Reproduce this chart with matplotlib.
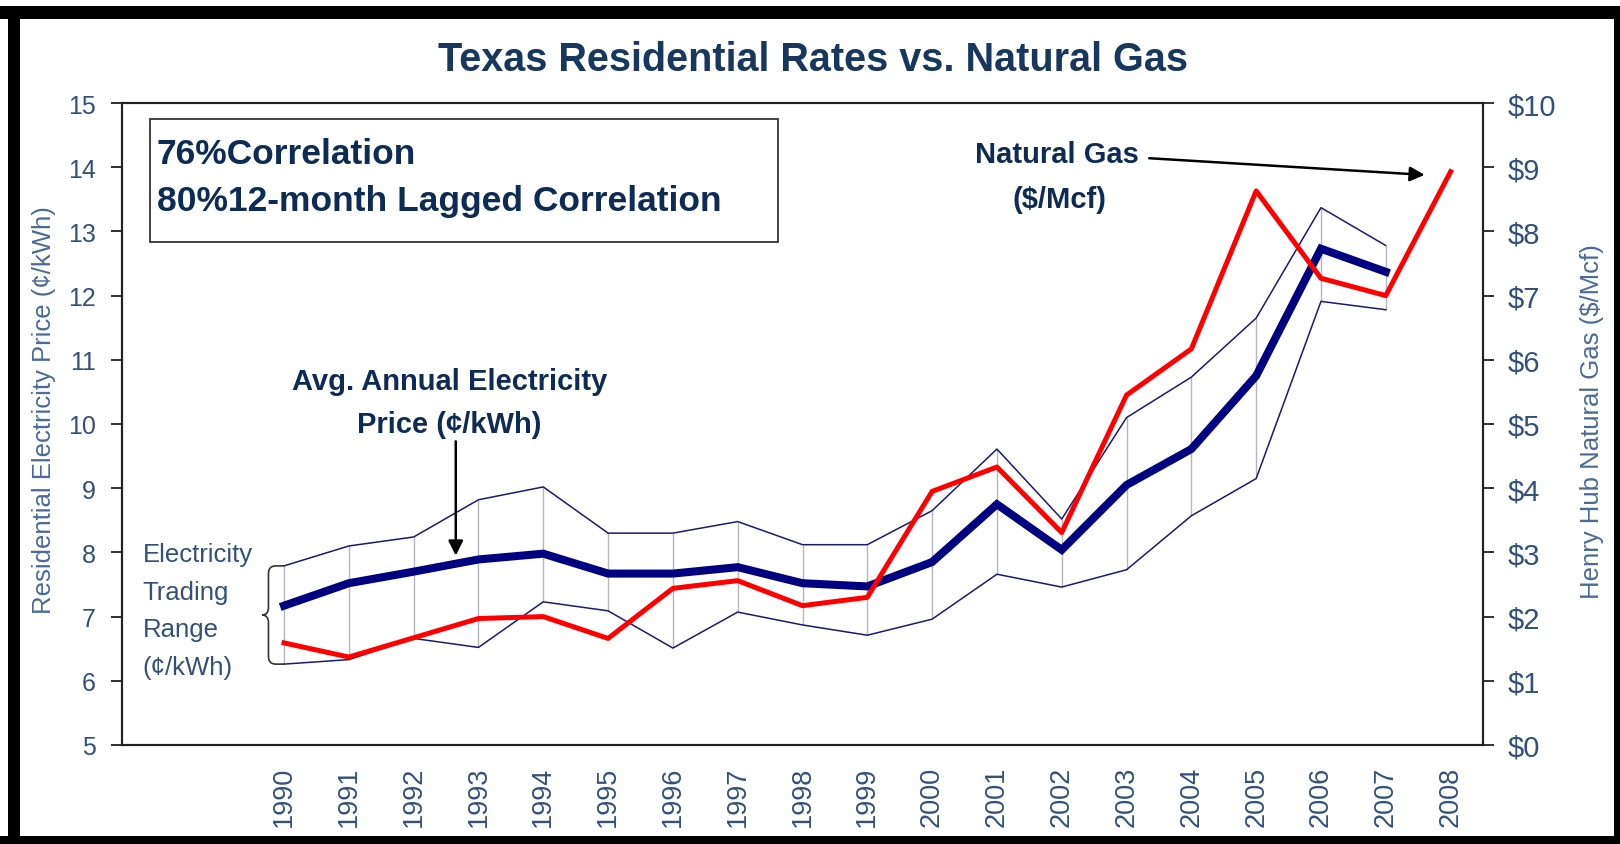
import matplotlib
matplotlib.use('Agg')
import matplotlib.pyplot as plt
from matplotlib.path import Path
from matplotlib.patches import PathPatch, Rectangle
from matplotlib import font_manager

# ---------------- data ----------------
years_elec = list(range(1990, 2008))
elec_high = [7.79, 8.10, 8.24, 8.82, 9.02, 8.30, 8.30, 8.48, 8.12, 8.12,
             8.65, 9.61, 8.52, 10.10, 10.73, 11.65, 13.37, 12.78]
elec_avg = [7.17, 7.52, 7.70, 7.89, 7.98, 7.67, 7.67, 7.77, 7.52, 7.47,
            7.85, 8.75, 8.04, 9.05, 9.61, 10.75, 12.73, 12.37]
elec_low = [6.26, 6.33, 6.66, 6.52, 7.23, 7.09, 6.51, 7.07, 6.87, 6.71,
            6.96, 7.66, 7.46, 7.73, 8.57, 9.15, 11.91, 11.78]
years_gas = list(range(1990, 2009))
gas_price = [1.59, 1.37, 1.67, 1.97, 2.00, 1.66, 2.44, 2.56, 2.17, 2.30,
             3.95, 4.33, 3.31, 5.45, 6.17, 8.63, 7.27, 7.00, 8.93]
left_ticks = list(range(5, 16))
right_ticks = list(range(0, 11))
right_ticklabels = ['$%d' % v for v in right_ticks]
year_labels = [str(y) for y in years_gas]

# ---------------- fonts ----------------
names = {f.name for f in font_manager.fontManager.ttflist}
BASE = 'Liberation Sans' if 'Liberation Sans' in names else 'DejaVu Sans'
NARROW = 'Liberation Sans Narrow' if 'Liberation Sans Narrow' in names else BASE
plt.rcParams['font.family'] = [BASE, 'DejaVu Sans']

W, H = 1620, 845
fig = plt.figure(figsize=(W / 100, H / 100), dpi=100)
fig.patch.set_facecolor('white')

def fx(px):
    return px / W

def fy(py):
    return 1 - py / H

ax = fig.add_axes([fx(122), fy(746), (1483 - 122) / W, (746 - 104) / H])
ax2 = ax.twinx()

TICKC = '#33507a'
LABC = '#4a6a96'
NAVY = '#0d2b55'

ax.vlines(years_elec, elec_low, elec_high, color='#b5b5c2', lw=1.0, zorder=1)
ax.plot(years_elec, elec_high, color='#1a1a6e', lw=1.1, zorder=2)
ax.plot(years_elec, elec_low, color='#1a1a6e', lw=1.1, zorder=2)
ax.plot(years_elec, elec_avg, color='#000080', lw=5.8, zorder=3,
        solid_joinstyle='miter')
ax2.plot(years_gas, gas_price, color='#ff0000', lw=3.6, zorder=4)

ax.set_xlim(1987.5, 2008.5)
ax.set_ylim(5, 15)
ax2.set_ylim(0, 10)
ax.set_yticks(left_ticks)
ax.set_yticklabels([str(v) for v in left_ticks])
ax2.set_yticks(right_ticks)
ax2.set_yticklabels(right_ticklabels)
ax.set_xticks(years_gas)
ax.set_xticklabels(year_labels, rotation=90)

ax.tick_params(axis='y', direction='out', length=8, width=1.3, color='#222222',
               labelsize=18, labelcolor=TICKC, pad=11)
ax2.tick_params(axis='y', direction='out', length=8, width=1.3, color='#222222',
                labelsize=21, labelcolor=TICKC, pad=10)
ax.tick_params(axis='x', length=0, labelsize=19.5, labelcolor=TICKC, pad=15)
for a in (ax, ax2):
    for s in a.spines.values():
        s.set_linewidth(1.5)
        s.set_color('#222222')

# axis titles
fig.text(fx(44), fy(410), 'Residential Electricity Price (\u00a2/kWh)', rotation=90,
         ha='center', va='center', fontsize=18.5, color=LABC)
fig.text(fx(1592), fy(422), 'Henry Hub Natural Gas ($/Mcf)', rotation=90,
         ha='center', va='center', fontsize=18.5, color=LABC)

# title
fig.text(fx(813), fy(60), 'Texas Residential Rates vs. Natural Gas', ha='center',
         va='center', fontsize=28.5, fontweight='bold', color='#17375e')

# correlation box
fig.add_artist(Rectangle((fx(150), fy(243)), (778 - 150) / W, (243 - 120) / H,
                         transform=fig.transFigure, facecolor='white',
                         edgecolor='#333333', lw=1.3, zorder=5))
fig.text(fx(157), fy(155), '76%Correlation', ha='left', va='center',
         fontsize=25.5, fontweight='bold', color=NAVY, zorder=6)
fig.text(fx(157), fy(202), '80%12-month Lagged Correlation', ha='left', va='center',
         fontsize=25.5, fontweight='bold', color=NAVY, zorder=6)

# annotations
ax.text(1992.56, 10.67, 'Avg. Annual Electricity', ha='center', va='center',
        fontsize=21, fontweight='bold', family=NARROW, color=NAVY)
ax.text(1992.55, 10.0, 'Price (\u00a2/kWh)', ha='center', va='center',
        fontsize=21, fontweight='bold', family=NARROW, color=NAVY)
ax.annotate('', xy=(1992.65, 7.95), xytext=(1992.65, 9.73),
            arrowprops=dict(arrowstyle='-|>', color='black', lw=1.8,
                            mutation_scale=22, shrinkA=0, shrinkB=0))

ax2.text(2001.92, 9.21, 'Natural Gas', ha='center', va='center',
         fontsize=21, fontweight='bold', family=NARROW, color=NAVY)
ax2.text(2001.97, 8.50, '($/Mcf)', ha='center', va='center',
         fontsize=21, fontweight='bold', family=NARROW, color=NAVY)
ax2.annotate('', xy=(2007.6, 8.88), xytext=(2003.35, 9.14),
             arrowprops=dict(arrowstyle='-|>', color='black', lw=1.8,
                             mutation_scale=22, shrinkA=0, shrinkB=0))

for txt, yv in zip(['Electricity', 'Trading', 'Range', '(\u00a2/kWh)'],
                   [7.98, 7.38, 6.81, 6.22]):
    ax.text(1987.82, yv, txt, ha='left', va='center', fontsize=18.5,
            family=NARROW, color=TICKC)

# brace spanning the 1990 range
xt, xm, xe, xs = 1989.66, 1989.76, 1989.87, 1990.0
yt, yb = elec_high[0], elec_low[0]
ym = (yt + yb) / 2
c = 0.12
verts = [(xs, yt), (xe, yt), (xm, yt), (xm, yt - c), (xm, ym + c),
         (xm, ym), (xt, ym), (xm, ym), (xm, ym - c), (xm, yb + c),
         (xm, yb), (xe, yb), (xs, yb)]
codes = [Path.MOVETO, Path.LINETO, Path.CURVE3, Path.CURVE3, Path.LINETO,
         Path.CURVE3, Path.CURVE3, Path.CURVE3, Path.CURVE3, Path.LINETO,
         Path.CURVE3, Path.CURVE3, Path.LINETO]
ax.add_patch(PathPatch(Path(verts, codes), facecolor='none', edgecolor='#333333',
                       lw=1.2, clip_on=False))

# black frame of the picture
for (x0, y0, x1, y1) in [(0, 7, W, 20), (8, 7, 20, H), (0, 837, W, H),
                         (1614, 7, W, H)]:
    fig.add_artist(Rectangle((fx(x0), fy(y1)), (x1 - x0) / W, (y1 - y0) / H,
                             transform=fig.transFigure, facecolor='black',
                             edgecolor='none', zorder=10))

fig.savefig('out.png', dpi=100, facecolor='white')
